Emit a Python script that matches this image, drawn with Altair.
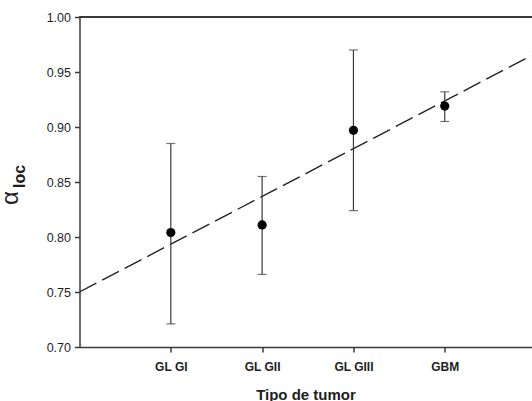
import altair as alt
import pandas as pd

# Tumour types and measured alpha_loc (mean with error range)
tipos = ["GL GI", "GL GII", "GL GIII", "GBM"]
posicion = [1, 2, 3, 4]
alpha_media = [0.804, 0.811, 0.897, 0.919]
alpha_inf = [0.721, 0.766, 0.824, 0.905]
alpha_sup = [0.885, 0.855, 0.970, 0.932]

# Linear trend across tumour grade
ajuste_x = [0.0, 4.95]
ajuste_y = [0.750, 0.965]

df = pd.DataFrame({"tipo": tipos, "pos": posicion, "media": alpha_media,
                   "inf": alpha_inf, "sup": alpha_sup})
df_fit = pd.DataFrame({"x": ajuste_x, "y": ajuste_y})

W, H = 452, 330
FONT = "Liberation Sans"
GRIS = "#3a3a3a"
TEXTO = "#1e1e1e"

xscale = alt.Scale(domain=[0, 4.95], nice=False, zero=False)
yscale = alt.Scale(domain=[0.70, 1.00], nice=False, zero=False)

label_expr = ("datum.value == 1 ? 'GL GI' : datum.value == 2 ? 'GL GII' : "
              "datum.value == 3 ? 'GL GIII' : 'GBM'")

base = alt.Chart(df)

puntos = base.mark_point(filled=True, size=85, color="black", opacity=1).encode(
    x=alt.X("pos:Q", scale=xscale,
            axis=alt.Axis(values=posicion, labelExpr=label_expr, title="Tipo de tumor",
                          grid=False, labelFontWeight="bold", labelFontSize=12,
                          labelFont=FONT, titleFont=FONT, titleFontSize=15,
                          titleFontWeight="bold", titlePadding=15, labelPadding=9,
                          tickSize=5, tickColor=GRIS, domainColor=GRIS,
                          domainWidth=1.5, tickWidth=1.5, labelColor=TEXTO,
                          titleColor=TEXTO)),
    y=alt.Y("media:Q", scale=yscale,
            axis=alt.Axis(values=[0.70, 0.75, 0.80, 0.85, 0.90, 0.95, 1.00],
                          format=".2f", title=None, grid=False, labelFontSize=12.5,
                          labelFont=FONT, labelPadding=4, tickSize=5,
                          tickColor=GRIS, domainColor=GRIS, domainWidth=1.5,
                          tickWidth=1.5, labelColor=TEXTO)),
)

barras = base.mark_rule(color=GRIS, strokeWidth=1.2).encode(
    x="pos:Q", y="inf:Q", y2="sup:Q"
)
cap_inf = base.mark_tick(orient="horizontal", size=9, thickness=1.2, color=GRIS).encode(
    x="pos:Q", y="inf:Q"
)
cap_sup = base.mark_tick(orient="horizontal", size=9, thickness=1.2, color=GRIS).encode(
    x="pos:Q", y="sup:Q"
)

tendencia = alt.Chart(df_fit).mark_line(
    color="#222", strokeWidth=1.4, strokeDash=[19, 6.5], clip=True
).encode(x=alt.X("x:Q", scale=xscale), y=alt.Y("y:Q", scale=yscale))

borde_sup = alt.Chart(df).mark_rule(color=GRIS, strokeWidth=1.5).encode(
    y=alt.datum(1.0), x=alt.value(0), x2=alt.value(W + 2)
)

# Y axis title: alpha with subscript "loc", both rotated to read upwards
alfa = alt.Chart(df).transform_filter("datum.pos == 1").mark_text(
    text="α", fontSize=24, font=FONT, color=TEXTO, angle=270,
    align="center", baseline="alphabetic"
).encode(x=alt.value(-61.5), y=alt.value(181))
sub = alt.Chart(df).transform_filter("datum.pos == 1").mark_text(
    text="loc", fontSize=16, fontWeight="bold", font=FONT, color=TEXTO, angle=270,
    align="center", baseline="alphabetic"
).encode(x=alt.value(-54.5), y=alt.value(159.5))

chart = alt.layer(tendencia, barras, cap_inf, cap_sup, puntos, borde_sup, alfa, sub).properties(
    width=W, height=H,
    autosize=alt.AutoSizeParams(type="none"),
    padding={"left": 79.5, "top": 17, "right": 0, "bottom": 54},
).configure_view(strokeWidth=0, stroke=None)

chart.save("out.html", embed_options={"renderer": "svg", "actions": False})
